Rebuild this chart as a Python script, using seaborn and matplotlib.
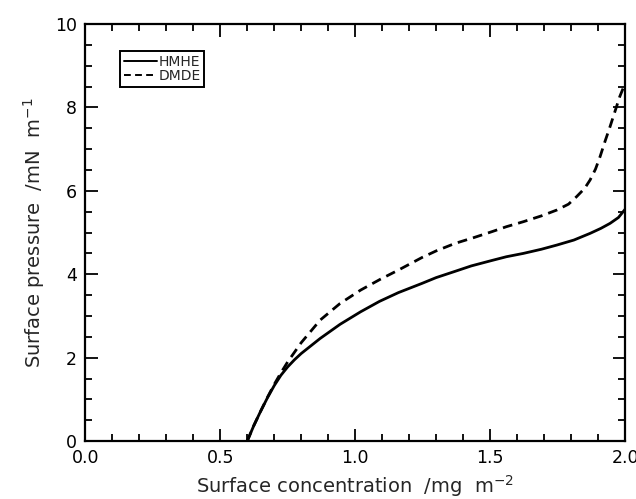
import matplotlib
matplotlib.use("Agg")
import matplotlib.pyplot as plt
from matplotlib.ticker import MultipleLocator
import numpy as np
import pandas as pd
import seaborn as sns

# Surface pressure isotherms (mN/m) vs surface concentration (mg/m^2)
hmhe_x = [0.60, 0.625, 0.65, 0.675, 0.70, 0.725, 0.75, 0.775, 0.80, 0.87,
          0.944, 1.02, 1.09, 1.16, 1.247, 1.30, 1.37, 1.43, 1.506, 1.56,
          1.623, 1.69, 1.747, 1.81, 1.87, 1.91, 1.944, 1.975, 2.00]
hmhe_y = [0.00, 0.38, 0.72, 1.04, 1.33, 1.58, 1.78, 1.95, 2.10, 2.46,
          2.80, 3.10, 3.35, 3.56, 3.78, 3.92, 4.07, 4.20, 4.33, 4.42,
          4.50, 4.60, 4.70, 4.82, 4.98, 5.10, 5.22, 5.36, 5.56]

dmde_x = [0.60, 0.625, 0.65, 0.675, 0.70, 0.725, 0.75, 0.80, 0.87, 0.944,
          1.02, 1.093, 1.16, 1.247, 1.30, 1.37, 1.44, 1.506, 1.56, 1.623,
          1.69, 1.747, 1.79, 1.82, 1.85, 1.87, 1.89, 1.907, 1.925, 1.944,
          1.962, 1.98, 2.00]
dmde_y = [0.00, 0.38, 0.72, 1.05, 1.36, 1.64, 1.90, 2.36, 2.90, 3.30,
          3.62, 3.88, 4.10, 4.40, 4.56, 4.74, 4.88, 5.02, 5.14, 5.26,
          5.40, 5.54, 5.68, 5.86, 6.06, 6.26, 6.52, 6.82, 7.18, 7.54,
          7.90, 8.26, 8.58]

df = pd.concat([
    pd.DataFrame({"conc": hmhe_x, "pressure": hmhe_y, "sample": "HMHE"}),
    pd.DataFrame({"conc": dmde_x, "pressure": dmde_y, "sample": "DMDE"}),
], ignore_index=True)

sns.set_theme(style="ticks")
plt.rcParams["font.family"] = ["DejaVu Sans"]

fig = plt.figure(figsize=(6.36, 4.99), dpi=100)
ax = fig.add_axes([0.134, 0.116, 0.849, 0.836])

sns.lineplot(data=df, x="conc", y="pressure", hue="sample", style="sample",
             palette={"HMHE": "black", "DMDE": "black"},
             dashes={"HMHE": "", "DMDE": (3.5, 2.2)},
             linewidth=2.0, sort=False, estimator=None, ax=ax)

ax.set_xlim(0, 2.0)
ax.set_ylim(0, 10)
ax.xaxis.set_major_locator(MultipleLocator(0.5))
ax.xaxis.set_minor_locator(MultipleLocator(0.1))
ax.yaxis.set_major_locator(MultipleLocator(2))
ax.yaxis.set_minor_locator(MultipleLocator(0.5))
ax.xaxis.set_major_formatter(plt.FuncFormatter(lambda v, p: f"{v:.1f}"))

ax.tick_params(which="both", direction="in", top=True, right=True,
               colors="black", labelsize=12.5, width=1.3)
ax.tick_params(which="major", length=9, pad=6)
ax.tick_params(which="minor", length=5)
for s in ax.spines.values():
    s.set_linewidth(1.6)
    s.set_color("black")

ax.set_xlabel(r"Surface concentration  /mg  m$^{-2}$", fontsize=14, labelpad=4)
ax.set_ylabel(r"Surface pressure  /mN  m$^{-1}$", fontsize=14, labelpad=6)

leg = ax.legend(loc="upper left", bbox_to_anchor=(0.065, 0.935), fontsize=10,
                handlelength=2.4, handletextpad=0.1, borderpad=0.25,
                borderaxespad=0, labelspacing=0.05, fancybox=False,
                frameon=True, framealpha=1)
leg.get_frame().set_edgecolor("black")
leg.get_frame().set_linewidth(1.4)
for line in leg.get_lines():
    line.set_linewidth(1.4)

fig.savefig("out.png", dpi=100)
